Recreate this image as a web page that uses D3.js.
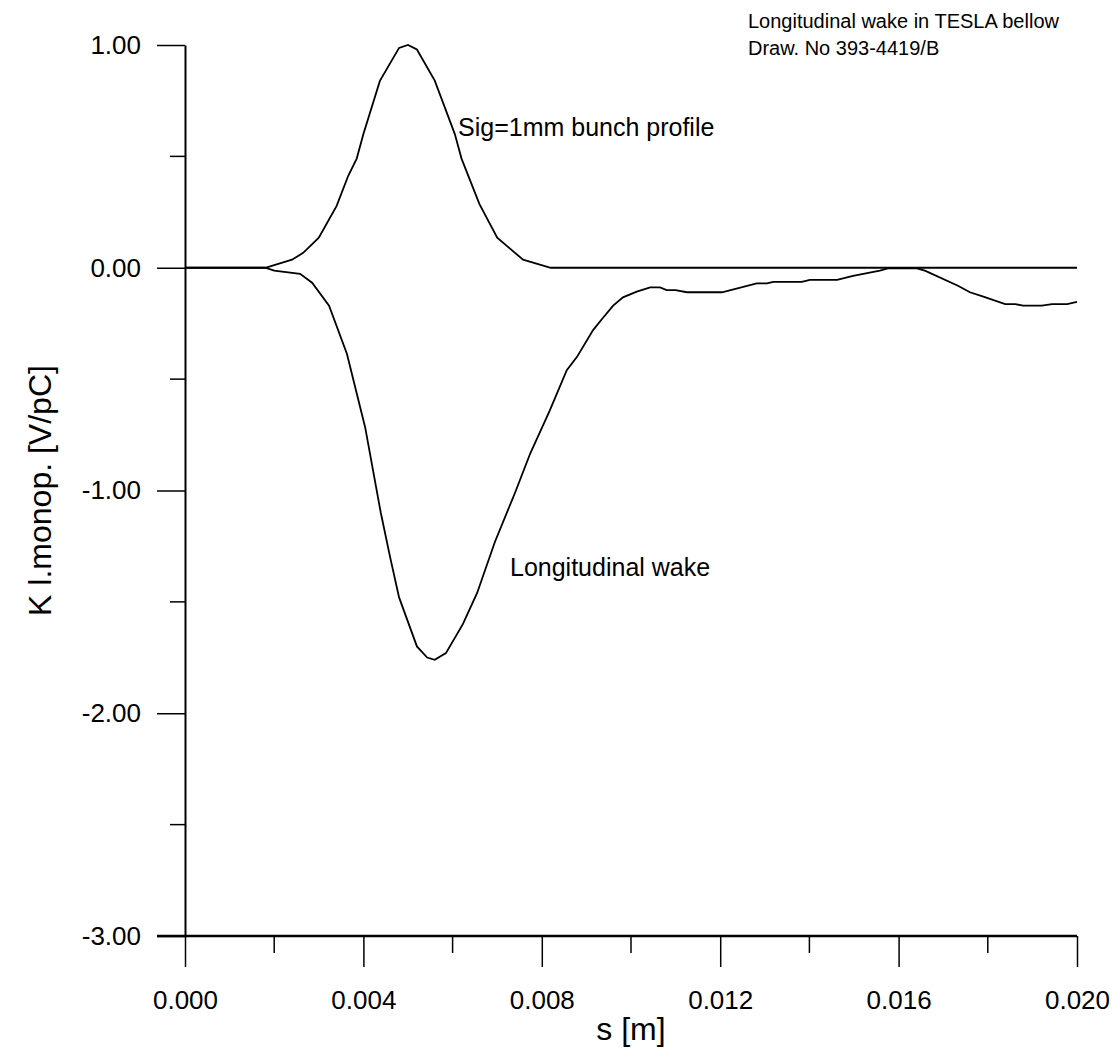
<!DOCTYPE html>
<html>
<head>
<meta charset="utf-8">
<script src="https://cdn.jsdelivr.net/npm/d3@7"></script>
<style>
  body { margin: 0; background: #fff; }
  text { font-family: Arial, "Liberation Sans", sans-serif; fill: #000; }
</style>
</head>
<body>
<script>
// bunch profile (normalised)
const bunchS = [0, 0.0018, 0.0024, 0.00265, 0.0030, 0.0034, 0.00366, 0.00385, 0.0040, 0.00437,
    0.0048, 0.0050, 0.0052, 0.0056, 0.00605, 0.0062, 0.0066, 0.0070, 0.00758, 0.0082, 0.020];
const bunchK = [0, 0, 0.036, 0.067, 0.135, 0.278, 0.413, 0.49, 0.60, 0.839,
    0.987, 1.0, 0.98, 0.84, 0.60, 0.49, 0.287, 0.135, 0.036, 0.0, 0.0];

// longitudinal wake [V/pC]
const wakeS = [0, 0.0018, 0.0020, 0.00258, 0.00285, 0.00323, 0.00363, 0.00404, 0.00439, 0.0046,
    0.0048, 0.0052, 0.00543, 0.0056, 0.00585, 0.00623, 0.00655, 0.00695, 0.0074, 0.00774,
    0.00818, 0.00856, 0.00879, 0.00915, 0.00935, 0.0096, 0.00982, 0.01013, 0.01043, 0.01065,
    0.0108, 0.0110, 0.01125, 0.01204, 0.01282, 0.01305, 0.01319, 0.01383, 0.01401, 0.01462,
    0.01498, 0.01558, 0.01576, 0.01641, 0.01659, 0.01733, 0.0176, 0.0179, 0.01839, 0.01861,
    0.01879, 0.01921, 0.01944, 0.01978, 0.020];
const wakeK = [0, 0, -0.013, -0.027, -0.067, -0.17, -0.386, -0.717, -1.10, -1.30,
    -1.48, -1.70, -1.75, -1.76, -1.73, -1.60, -1.46, -1.23, -1.01, -0.834,
    -0.64, -0.46, -0.40, -0.28, -0.23, -0.17, -0.133, -0.107, -0.088, -0.088,
    -0.10, -0.10, -0.11, -0.11, -0.07, -0.07, -0.063, -0.063, -0.054, -0.054,
    -0.036, -0.013, -0.003, -0.003, -0.013, -0.081, -0.11, -0.13, -0.163, -0.163,
    -0.17, -0.17, -0.163, -0.163, -0.153];

const xMajor = [0, 0.004, 0.008, 0.012, 0.016, 0.020];
const xMinor = [0.002, 0.006, 0.010, 0.014, 0.018];
const yMajor = [1, 0, -1, -2, -3];
const yMinor = [0.5, -0.5, -1.5, -2.5];

const width = 1119, height = 1053;

const x = d3.scaleLinear().domain([0, 0.020]).range([185, 1077]);
const y = d3.scaleLinear().domain([-3, 1]).range([936, 45]);

// plain hyphen for negatives, like the original plot
const fmt2 = d => d3.format(".2f")(d).replace("\u2212", "-");

const svg = d3.select("body").append("svg")
    .attr("width", width)
    .attr("height", height);

// x axis (bottom, at -3)
const xAxis = svg.append("g").attr("transform", `translate(0,${y(-3)})`);
xAxis.call(d3.axisBottom(x).tickValues(xMajor).tickSize(31).tickPadding(24)
    .tickFormat(d3.format(".3f")).tickSizeOuter(0));
xAxis.append("g").selectAll("line").data(xMinor).join("line")
    .attr("x1", d => x(d)).attr("x2", d => x(d))
    .attr("y1", 0).attr("y2", 17)
    .attr("stroke", "#000").attr("stroke-width", 1.5);
xAxis.select(".domain").remove();
xAxis.append("line")
    .attr("x1", 157).attr("x2", x(0.020))
    .attr("stroke", "#000").attr("stroke-width", 2.5);

// y axis (left)
const yAxis = svg.append("g").attr("transform", `translate(${x(0)},0)`);
yAxis.call(d3.axisLeft(y).tickValues(yMajor).tickSize(28).tickPadding(16)
    .tickFormat(fmt2).tickSizeOuter(0));
yAxis.append("g").selectAll("line").data(yMinor).join("line")
    .attr("y1", d => y(d)).attr("y2", d => y(d))
    .attr("x1", 0).attr("x2", -15)
    .attr("stroke", "#000").attr("stroke-width", 1.5);
yAxis.select(".domain").attr("stroke-width", 2);

svg.selectAll(".tick line").attr("stroke-width", 1.5);
svg.selectAll(".tick text")
    .style("font-family", "Arial, 'Liberation Sans', sans-serif")
    .style("font-size", "26px");

// curves
const line = d3.line().x(d => x(d[0])).y(d => y(d[1]));

svg.append("path")
    .datum(d3.zip(bunchS, bunchK))
    .attr("d", line)
    .attr("fill", "none").attr("stroke", "#000").attr("stroke-width", 1.8);

svg.append("path")
    .datum(d3.zip(wakeS, wakeK))
    .attr("d", line)
    .attr("fill", "none").attr("stroke", "#000").attr("stroke-width", 1.8);

// labels
svg.append("text").attr("x", 458).attr("y", 136)
    .style("font-size", "25px").text("Sig=1mm bunch profile");
svg.append("text").attr("x", 510).attr("y", 576)
    .style("font-size", "25px").text("Longitudinal wake");

svg.append("text").attr("x", 748).attr("y", 28)
    .style("font-size", "20px").text("Longitudinal wake in TESLA bellow");
svg.append("text").attr("x", 748).attr("y", 55)
    .style("font-size", "20px").text("Draw. No 393-4419/B");

// axis titles
svg.append("text").attr("x", x(0.010)).attr("y", 1040)
    .attr("text-anchor", "middle")
    .style("font-size", "32px").text("s [m]");
svg.append("text")
    .attr("transform", `translate(51,${(y(1) + y(-3)) / 2}) rotate(-90)`)
    .attr("text-anchor", "middle")
    .style("font-size", "32px").text("K l.monop. [V/pC]");
</script>
</body>
</html>
